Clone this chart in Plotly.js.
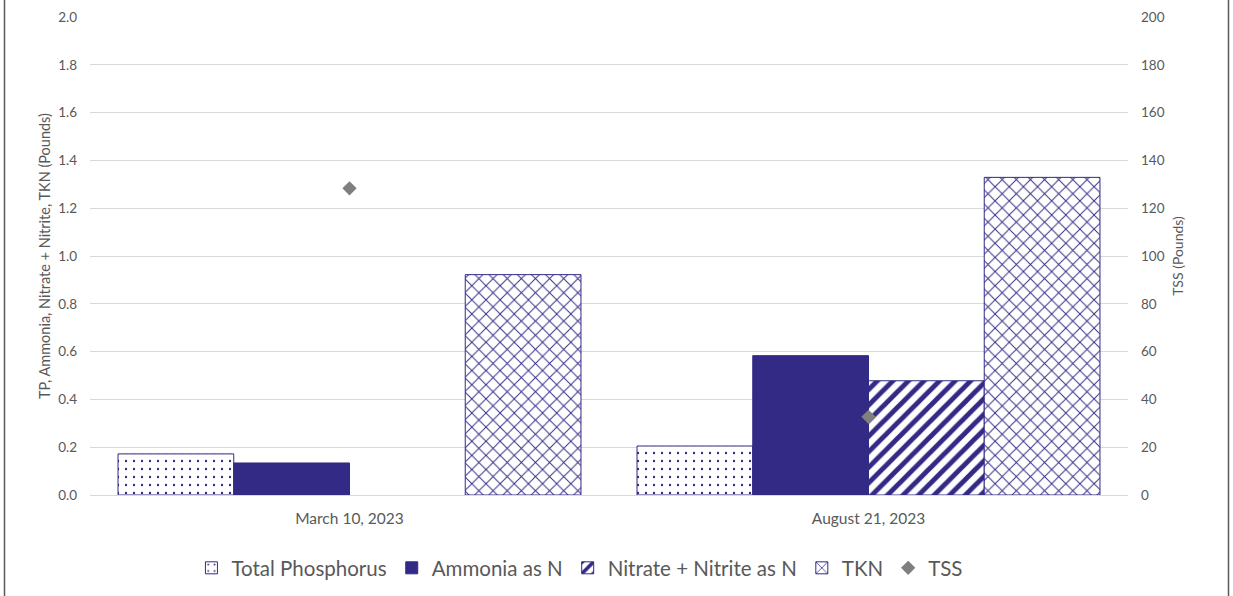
<!DOCTYPE html>
<html>
<head>
<meta charset="utf-8">
<script src="https://cdn.plot.ly/plotly-3.0.1.min.js"></script>
<style>
html,body{margin:0;padding:0;background:#fff;}
#chart{width:1233px;height:596px;}
</style>
</head>
<body>
<div id="chart"></div>
<script>
const categories = ["March 10, 2023", "August 21, 2023"];
const totalPhosphorus = [0.172, 0.205];
const ammonia = [0.134, 0.583];
const nitrateNitrite = [null, 0.478];
const tkn = [0.922, 1.329];
const tss = [128.3, 32.7];
const seriesNames = ["Total Phosphorus", "Ammonia as N", "Nitrate + Nitrite as N", "TKN", "TSS"];

const navy = "#322A84";
const textColor = "#595959";
const fontFam = "Lato, 'Open Sans', sans-serif";

const traces = [
  {type:"bar", name:seriesNames[0], x:categories, y:totalPhosphorus,
   marker:{color:"#ffffff", line:{color:navy, width:1},
     pattern:{shape:".", fgcolor:navy, fgopacity:1, bgcolor:"#ffffff", size:8, solidity:0.07, fillmode:"overlay"}}},
  {type:"bar", name:seriesNames[1], x:categories, y:ammonia,
   marker:{color:navy, line:{color:navy, width:1}}},
  {type:"bar", name:seriesNames[2], x:categories, y:nitrateNitrite,
   marker:{color:"#ffffff", line:{color:navy, width:1},
     pattern:{shape:"/", fgcolor:navy, fgopacity:1, bgcolor:"#ffffff", size:11, solidity:0.45, fillmode:"overlay"}}},
  {type:"bar", name:seriesNames[3], x:categories, y:tkn,
   marker:{color:"#ffffff", line:{color:navy, width:1},
     pattern:{shape:"x", fgcolor:navy, fgopacity:1, bgcolor:"#ffffff", size:10, solidity:0.18, fillmode:"overlay"}}},
  {type:"scatter", mode:"markers", name:seriesNames[4], x:categories, y:tss, yaxis:"y2",
   marker:{symbol:"diamond", color:"#7F7F7F", size:11}}
];

const layout = {
  width:1233, height:596,
  margin:{l:90, r:105, t:17, b:101},
  paper_bgcolor:"#ffffff", plot_bgcolor:"#ffffff",
  font:{family:fontFam, color:textColor, size:12},
  barmode:"group", bargap:0.108, bargroupgap:0,
  showlegend:true,
  legend:{orientation:"h", x:0.472, xanchor:"center", yref:"container", y:1-568/596, yanchor:"middle",
    font:{size:20.5, color:textColor, family:fontFam}, itemwidth:30, traceorder:"normal"},
  xaxis:{type:"category", showgrid:false, showline:false, zeroline:false, ticks:"",
    tickfont:{size:15.5, color:textColor}, ticklabelstandoff:12},
  yaxis:{range:[0,2], dtick:0.2, tickformat:".1f", showgrid:true, gridcolor:"#D9D9D9", gridwidth:1,
    zeroline:true, zerolinecolor:"#D9D9D9", showline:false, ticks:"",
    tickfont:{size:13.5, color:textColor}, ticklabelstandoff:12,
    title:{text:"TP, Ammonia, Nitrate + Nitrite, TKN (Pounds)", font:{size:14.5, color:textColor}, standoff:4}},
  yaxis2:{range:[0,200], dtick:20, overlaying:"y", side:"right", showgrid:false, zeroline:false,
    showline:false, ticks:"", tickfont:{size:13.5, color:textColor}, ticklabelstandoff:12,
    title:{text:"TSS (Pounds)", font:{size:14, color:textColor}, standoff:9}},
  shapes:[
    {type:"line", xref:"paper", yref:"paper", x0:(4.5-90)/1038, x1:(4.5-90)/1038, y0:-0.3, y1:1.1,
     line:{color:"#595959", width:1.5}},
    {type:"line", xref:"paper", yref:"paper", x0:(1228.5-90)/1038, x1:(1228.5-90)/1038, y0:-0.3, y1:1.1,
     line:{color:"#595959", width:1.5}}
  ]
};

Plotly.newPlot("chart", traces, layout, {displayModeBar:false, staticPlot:true});
</script>
</body>
</html>
